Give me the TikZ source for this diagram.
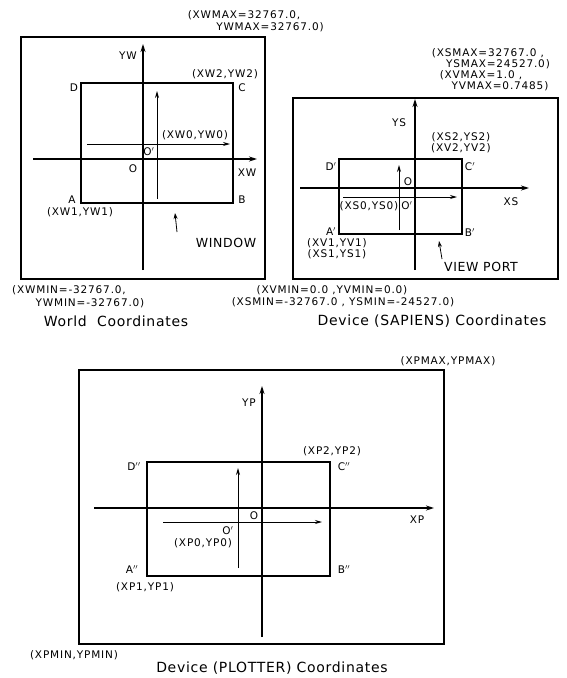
\documentclass[tikz,border=0pt]{standalone}
\usepackage{fontspec}
\setmainfont{DejaVu Sans}
\newfontfamily\lblfont[LetterSpace=8]{DejaVu Sans}
\newfontfamily\capfont[LetterSpace=5]{DejaVu Sans}
\usetikzlibrary{arrows.meta}

\begin{document}
\begin{tikzpicture}[x=1pt, y=-1pt,
    frame/.style={line width=2.2pt},
    win/.style={line width=1.9pt},
    axis/.style={line width=1.2pt, -{Stealth[length=8pt,width=5pt]}},
    subaxis/.style={line width=0.9pt, -{Stealth[length=7pt,width=4pt]}},
    pointer/.style={line width=0.8pt, -{Stealth[length=6pt,width=4pt]}},
    lbl/.style={font=\lblfont\fontsize{10.5}{11}\selectfont, inner sep=0pt},
    tag/.style={font=\capfont\fontsize{12.5}{14}\selectfont, inner sep=0pt},
    caption/.style={font=\capfont\fontsize{14}{15}\selectfont, inner sep=0pt}
]
    \useasboundingbox (0,0) rectangle (567,678);

    % World coordinates
    \coordinate (wf1) at (21,37);  \coordinate (wf2) at (265,279);
    \coordinate (wr1) at (81,83);  \coordinate (wr2) at (233,203);
    \draw[frame] (wf1) rectangle (wf2);
    \draw[win] (wr1) rectangle (wr2);
    \coordinate (wxa) at (33,159);  \coordinate (wxb) at (257,159);
    \coordinate (wya) at (143,270); \coordinate (wyb) at (143,44);
    \draw[axis] (wxa) -- (wxb);
    \draw[axis] (wya) -- (wyb);
    \coordinate (wxc) at (87,144);  \coordinate (wxd) at (230,144);
    \coordinate (wyc) at (157,199); \coordinate (wyd) at (157,91);
    \draw[subaxis] (wxc) -- (wxd);
    \draw[subaxis] (wyc) -- (wyd);
    \node[lbl] (wmax1) at (244,15) {(XWMAX=32767.0,};
    \node[lbl] (wmax2) at (270,27) {YWMAX=32767.0)};
    \node[lbl] (wyw) at (128,56) {YW};
    \node[lbl] (wd) at (74,88) {D};
    \node[lbl] (wc) at (242,88) {C};
    \node[lbl] (wp2) at (225,74) {(XW2,YW2)};
    \node[lbl] (wp0) at (195,135) {(XW0,YW0)};
    \node[lbl] (wo1) at (149,152) {O$'$};
    \node[lbl] (wo) at (133,169) {O};
    \node[lbl] (wxw) at (247,173) {XW};
    \node[lbl] (wa) at (72,200) {A};
    \node[lbl] (wb) at (242,200) {B};
    \node[lbl] (wp1) at (80,212) {(XW1,YW1)};
    \node[tag] (wwin) at (226,243) {WINDOW};
    \coordinate (wpt) at (177,232);
    \draw[pointer] (wpt) -- (175,213);
    \node[lbl] (wmin1) at (69,290) {(XWMIN=-32767.0,};
    \node[lbl] (wmin2) at (90,303) {YWMIN=-32767.0)};
    \node[caption] (wcap) at (116,321) {World\ \ Coordinates};

    % Device (SAPIENS) coordinates
    \coordinate (sf1) at (293,98);  \coordinate (sf2) at (558,279);
    \coordinate (sr1) at (339,159); \coordinate (sr2) at (462,234);
    \draw[frame] (sf1) rectangle (sf2);
    \draw[win] (sr1) rectangle (sr2);
    \coordinate (sxa) at (300,188); \coordinate (sxb) at (529,188);
    \coordinate (sya) at (415,270); \coordinate (syb) at (415,99);
    \draw[axis] (sxa) -- (sxb);
    \draw[axis] (sya) -- (syb);
    \coordinate (sxc) at (343,197); \coordinate (sxd) at (457,197);
    \coordinate (syc) at (399,230); \coordinate (syd) at (399,165);
    \draw[subaxis] (sxc) -- (sxd);
    \draw[subaxis] (syc) -- (syd);
    \node[lbl] (smax1) at (488,53) {(XSMAX=32767.0 ,};
    \node[lbl] (smax2) at (498,64) {YSMAX=24527.0)};
    \node[lbl] (vmax1) at (481,75) {(XVMAX=1.0 ,};
    \node[lbl] (vmax2) at (500,86) {YVMAX=0.7485)};
    \node[lbl] (sys) at (399,123) {YS};
    \node[lbl] (sp2) at (461,137) {(XS2,YS2)};
    \node[lbl] (vp2) at (461,148) {(XV2,YV2)};
    \node[lbl] (sd) at (331,167) {D$'$};
    \node[lbl] (sc) at (470,167) {C$'$};
    \node[lbl] (so) at (408,182) {O};
    \node[lbl] (sp0) at (369,206) {(XS0,YS0)};
    \node[lbl] (so1) at (407,206) {O$'$};
    \node[lbl] (sxs) at (511,202) {XS};
    \node[lbl] (sa) at (331,232) {A$'$};
    \node[lbl] (sb) at (470,233) {B$'$};
    \node[lbl] (vp1) at (337,243) {(XV1,YV1)};
    \node[lbl] (sp1) at (337,254) {(XS1,YS1)};
    \node[tag] (sport) at (481,267) {VIEW PORT};
    \coordinate (spt) at (442,259);
    \draw[pointer] (spt) -- (439,241);
    \node[lbl] (vmin) at (332,290) {(XVMIN=0.0 ,YVMIN=0.0)};
    \node[lbl] (smin) at (343,302) {(XSMIN=-32767.0 , YSMIN=-24527.0)};
    \node[caption] (scap) at (432,321) {Device (SAPIENS) Coordinates};

    % Device (PLOTTER) coordinates
    \coordinate (pf1) at (79,370);  \coordinate (pf2) at (444,644);
    \coordinate (pr1) at (147,462); \coordinate (pr2) at (330,576);
    \draw[frame] (pf1) rectangle (pf2);
    \draw[win] (pr1) rectangle (pr2);
    \coordinate (pxa) at (94,508);  \coordinate (pxb) at (434,508);
    \coordinate (pya) at (262,637); \coordinate (pyb) at (262,386);
    \draw[axis] (pxa) -- (pxb);
    \draw[axis] (pya) -- (pyb);
    \coordinate (pxc) at (163,522); \coordinate (pxd) at (322,522);
    \coordinate (pyc) at (238,568); \coordinate (pyd) at (238,468);
    \draw[subaxis] (pxc) -- (pxd);
    \draw[subaxis] (pyc) -- (pyd);
    \node[lbl] (pmax) at (448,361) {(XPMAX,YPMAX)};
    \node[lbl] (pyp) at (249,403) {YP};
    \node[lbl] (pp2) at (332,451) {(XP2,YP2)};
    \node[lbl] (pd) at (134,467) {D$''$};
    \node[lbl] (pc) at (344,467) {C$''$};
    \node[lbl] (po) at (254,516) {O};
    \node[lbl] (pxp) at (417,520) {XP};
    \node[lbl] (po1) at (228,531) {O$'$};
    \node[lbl] (pp0) at (203,543) {(XP0,YP0)};
    \node[lbl] (pa) at (132,570) {A$''$};
    \node[lbl] (pb) at (344,570) {B$''$};
    \node[lbl] (pp1) at (145,587) {(XP1,YP1)};
    \node[lbl] (pmin) at (74,655) {(XPMIN,YPMIN)};
    \node[caption] (pcap) at (272,668) {Device (PLOTTER) Coordinates};
\end{tikzpicture}
\end{document}
